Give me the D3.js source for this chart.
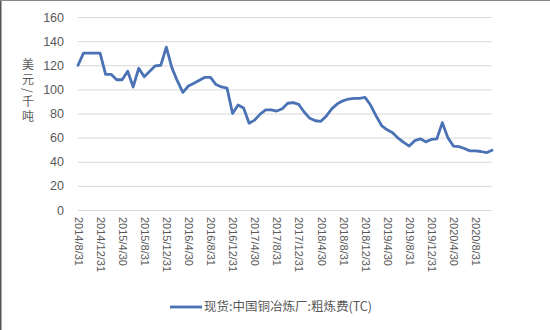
<!DOCTYPE html>
<html>
<head>
<meta charset="utf-8">
<script src="https://cdn.jsdelivr.net/npm/d3@7"></script>
<style>
  body { margin: 0; background: #fff; }
  svg { display: block; font-family: "Noto Sans CJK SC", "Liberation Sans", sans-serif; }
</style>
</head>
<body>
<div id="wrapper"></div>
<script>
// monthly points, 2014/8/31 .. 2020/11/30
const firstMonth = "2014-08"
const lastMonth = "2020-11"

const tcValues = [
  120, 130, 130, 130, 130, 112.5, 112.5, 108, 108, 115,
  102, 117.5, 110.5, 115, 119.5, 120, 135, 118, 107, 97.5,
  102.8, 105, 107.5, 110, 110, 104, 102, 101, 80, 87,
  84.5, 72, 74.5, 79.5, 83, 83, 82, 84, 88.5, 89,
  87.5, 81, 76, 74, 73.5, 78, 84, 88, 90.5, 92,
  92.6, 92.6, 93.4, 87, 78, 70, 66.5, 64, 59.5, 56,
  53, 57.5, 59, 56.5, 58.5, 59, 72.4, 60, 53, 52.5,
  51, 49, 49, 48.5, 47.5, 49.5
]

const xTickLabels = [
  "2014/8/31", "2014/12/31", "2015/4/30", "2015/8/31", "2015/12/31",
  "2016/4/30", "2016/8/31", "2016/12/31", "2017/4/30", "2017/8/31",
  "2017/12/31", "2018/4/30", "2018/8/31", "2018/12/31", "2019/4/30",
  "2019/8/31", "2019/12/31", "2020/4/30", "2020/8/31"
]
const yTicks = [0, 20, 40, 60, 80, 100, 120, 140, 160]
const yTitle = "美元/千吨"
const seriesName = "现货:中国铜冶炼厂:粗炼费(TC)"

function drawChart() {
  const parseMonth = d3.utcParse("%Y-%m")
  const months = d3.utcMonth.range(parseMonth(firstMonth), d3.utcMonth.offset(parseMonth(lastMonth), 1))
  const monthKey = d3.utcFormat("%Y-%m")

  const dataset = months.map((m, i) => ({ key: monthKey(m), date: m, value: tcValues[i] }))

  const xAccessor = d => d.key
  const yAccessor = d => d.value

  const dimensions = {
    width: 550,
    height: 330,
    margin: { top: 17, right: 58, bottom: 120, left: 78 },
  }
  dimensions.boundedWidth = dimensions.width - dimensions.margin.left - dimensions.margin.right
  dimensions.boundedHeight = dimensions.height - dimensions.margin.top - dimensions.margin.bottom

  const wrapper = d3.select("#wrapper")
    .append("svg")
      .attr("width", dimensions.width)
      .attr("height", dimensions.height)

  // frame edges
  wrapper.append("line")
      .attr("x1", 0.75).attr("x2", 0.75).attr("y1", 0).attr("y2", dimensions.height)
      .attr("stroke", "#555").attr("stroke-width", 1.5)
  wrapper.append("line")
      .attr("x1", 0).attr("x2", dimensions.width).attr("y1", 0.5).attr("y2", 0.5)
      .attr("stroke", "#888").attr("stroke-width", 1)

  const bounds = wrapper.append("g")
      .attr("transform", `translate(${dimensions.margin.left},${dimensions.margin.top})`)

  const xScale = d3.scalePoint()
    .domain(dataset.map(xAccessor))
    .range([0, dimensions.boundedWidth])

  const yScale = d3.scaleLinear()
    .domain([0, 160])
    .range([dimensions.boundedHeight, 0])

  // gridlines + y labels
  const yAxis = bounds.append("g")
    .call(d3.axisLeft(yScale)
      .tickValues(yTicks)
      .tickSize(-dimensions.boundedWidth)
      .tickPadding(14))
  yAxis.select(".domain").remove()
  yAxis.selectAll(".tick line")
      .attr("stroke", "#d9d9d9")
      .attr("stroke-width", 1)
  yAxis.selectAll(".tick text")
      .attr("fill", "#595959")
      .style("font-family", "'Liberation Sans', sans-serif")
      .style("font-size", "12.5px")

  // x labels every 4 months
  const labelled = dataset.filter((d, i) => i % 4 === 0)
  const xAxis = bounds.append("g")
      .attr("transform", `translate(0,${dimensions.boundedHeight})`)
    .call(d3.axisBottom(xScale)
      .tickValues(labelled.map(xAccessor))
      .tickFormat((k, i) => xTickLabels[i])
      .tickSize(0))
  xAxis.select(".domain").remove()
  xAxis.selectAll(".tick text")
      .attr("fill", "#595959")
      .style("font-family", "'Liberation Sans', sans-serif")
      .style("font-size", "11px")
      .attr("text-anchor", "start")
      .attr("dy", "0.35em")
      .attr("transform", "translate(0,7) rotate(90)")
      .attr("y", 0)
      .attr("x", 0)

  const lineGenerator = d3.line()
    .x(d => xScale(xAccessor(d)))
    .y(d => yScale(yAccessor(d)))

  bounds.append("path")
      .attr("d", lineGenerator(dataset))
      .attr("fill", "none")
      .attr("stroke", "#4a72b4")
      .attr("stroke-width", 2.8)
      .attr("stroke-linejoin", "round")
      .attr("stroke-linecap", "round")

  // y title, vertical writing
  wrapper.append("text")
      .attr("x", 28)
      .attr("y", 58)
      .style("writing-mode", "vertical-rl")
      .style("letter-spacing", "3px")
      .style("font-size", "12px")
      .attr("fill", "#595959")
      .text(yTitle)

  // legend
  const legend = wrapper.append("g")
      .attr("transform", "translate(170,307)")
  legend.append("line")
      .attr("x1", 0).attr("x2", 32)
      .attr("stroke", "#4a72b4")
      .attr("stroke-width", 2.8)
  legend.append("text")
      .attr("x", 34)
      .attr("dy", "0.35em")
      .attr("fill", "#595959")
      .style("font-size", "12.5px")
      .text(seriesName)
}

drawChart()
</script>
</body>
</html>
